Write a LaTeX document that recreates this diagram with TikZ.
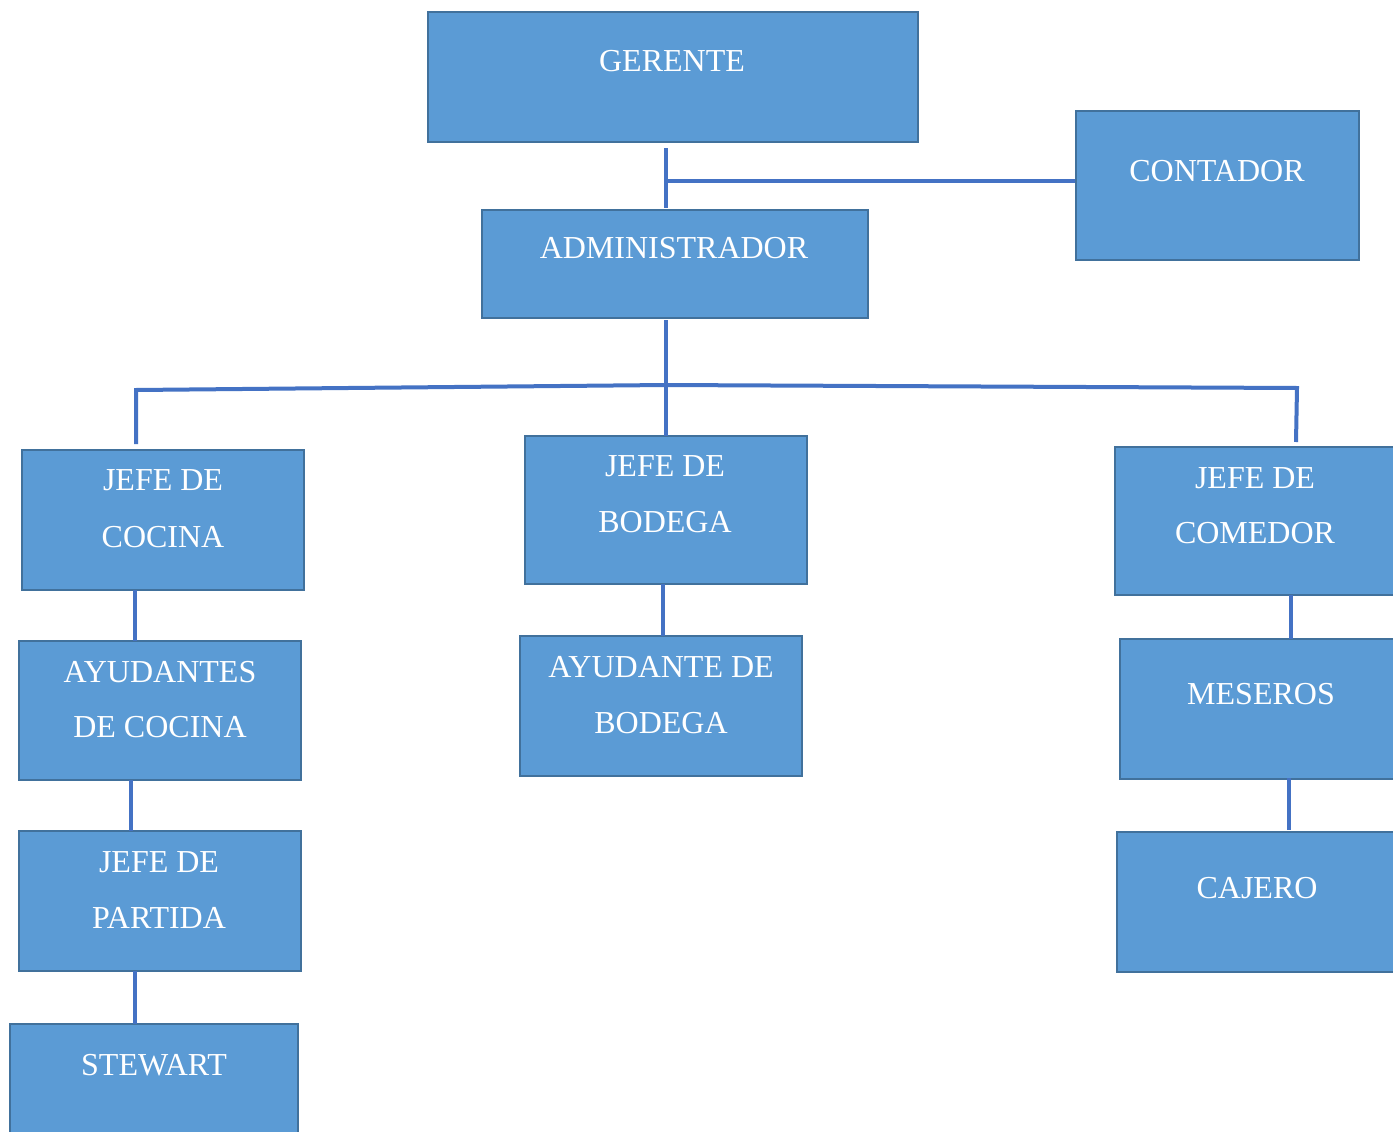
\documentclass[tikz,border=0pt]{standalone}
\usepackage{fontspec}
\setmainfont{Liberation Serif}
\definecolor{boxfill}{HTML}{5B9BD5}
\definecolor{boxline}{HTML}{41719C}
\definecolor{conn}{HTML}{4472C4}
\begin{document}
\begin{tikzpicture}[x=1pt,y=1pt,
  box/.style={draw=boxline, fill=boxfill, line width=2.2pt, inner sep=0pt, rectangle},
  txt/.style={text=white, anchor=base, inner sep=0pt, font=\fontsize{32}{38}\selectfont},
  link/.style={draw=conn, line width=4pt}]
\useasboundingbox (0,0) rectangle (1393,-1132);
\clip (0,0) rectangle (1393,-1132);
\fill[white] (0,0) rectangle (1393,-1132);
% boxes
\node[box, minimum width=490, minimum height=130] (ger)  at (673,-77) {};
\node[box, minimum width=283, minimum height=149] (con)  at (1217.5,-185.5) {};
\node[box, minimum width=386, minimum height=108] (adm)  at (675,-264) {};
\node[box, minimum width=282, minimum height=140] (jcoc) at (163,-520) {};
\node[box, minimum width=282, minimum height=148] (jbod) at (666,-510) {};
\node[box, minimum width=282, minimum height=148] (jcom) at (1256,-521) {};
\node[box, minimum width=282, minimum height=139] (ayc)  at (160,-710.5) {};
\node[box, minimum width=282, minimum height=140] (ayb)  at (661,-706) {};
\node[box, minimum width=282, minimum height=140] (mes)  at (1261,-709) {};
\node[box, minimum width=282, minimum height=140] (jpar) at (160,-901) {};
\node[box, minimum width=282, minimum height=140] (caj)  at (1258,-902) {};
\node[box, minimum width=288, minimum height=140] (stw)  at (154,-1094) {};
% texts
\node[txt] (tger)  at (672,-72) {GERENTE};
\node[txt] (tcon)  at (1217,-181) {CONTADOR};
\node[txt] (tadm)  at (674,-258) {ADMINISTRADOR};
\node[txt] (tjcoc1) at (163,-490) {JEFE DE};
\node[txt] (tjcoc2) at (163,-547) {COCINA};
\node[txt] (tjbod1) at (665,-476) {JEFE DE};
\node[txt] (tjbod2) at (665,-532) {BODEGA};
\node[txt] (tjcom1) at (1255,-488) {JEFE DE};
\node[txt] (tjcom2) at (1255,-543) {COMEDOR};
\node[txt] (tayc1) at (160,-682) {AYUDANTES};
\node[txt] (tayc2) at (160,-737) {DE COCINA};
\node[txt] (tayb1) at (661,-677) {AYUDANTE DE};
\node[txt] (tayb2) at (661,-733) {BODEGA};
\node[txt] (tmes)  at (1261,-704) {MESEROS};
\node[txt] (tjpar1) at (159,-872) {JEFE DE};
\node[txt] (tjpar2) at (159,-928) {PARTIDA};
\node[txt] (tcaj)  at (1257,-898) {CAJERO};
\node[txt] (tstw)  at (154,-1075) {STEWART};
% connector coordinates
\coordinate (a1) at (666,-148);
\coordinate (a2) at (666,-208);
\coordinate (a3) at (666,-181);
\coordinate (b1) at (666,-320);
\coordinate (b2) at (666,-436);
\coordinate (hl) at (136,-390);
\coordinate (hm) at (666,-385);
\coordinate (hr) at (1297,-388);
\coordinate (dl) at (136,-444);
\coordinate (dr) at (1296,-442);
\coordinate (k1) at (135,-590); \coordinate (k2) at (135,-641);
\coordinate (k3) at (131,-780); \coordinate (k4) at (131,-831);
\coordinate (k5) at (135,-971); \coordinate (k6) at (135,-1024);
\coordinate (m1) at (663,-584); \coordinate (m2) at (663,-636);
\coordinate (r1) at (1291,-595); \coordinate (r2) at (1291,-639);
\coordinate (r3) at (1289,-778); \coordinate (r4) at (1289,-830);
% connectors
\draw[link] (a1) -- (a2);
\draw[link] (a3) -- (a3 -| con.west);
\draw[link] (b1) -- (b2);
\draw[link] (dl) -- (hl) -- (hm) -- (hr) -- (dr);
\draw[link] (k1) -- (k2);
\draw[link] (k3) -- (k4);
\draw[link] (k5) -- (k6);
\draw[link] (m1) -- (m2);
\draw[link] (r1) -- (r2);
\draw[link] (r3) -- (r4);
\end{tikzpicture}
\end{document}
